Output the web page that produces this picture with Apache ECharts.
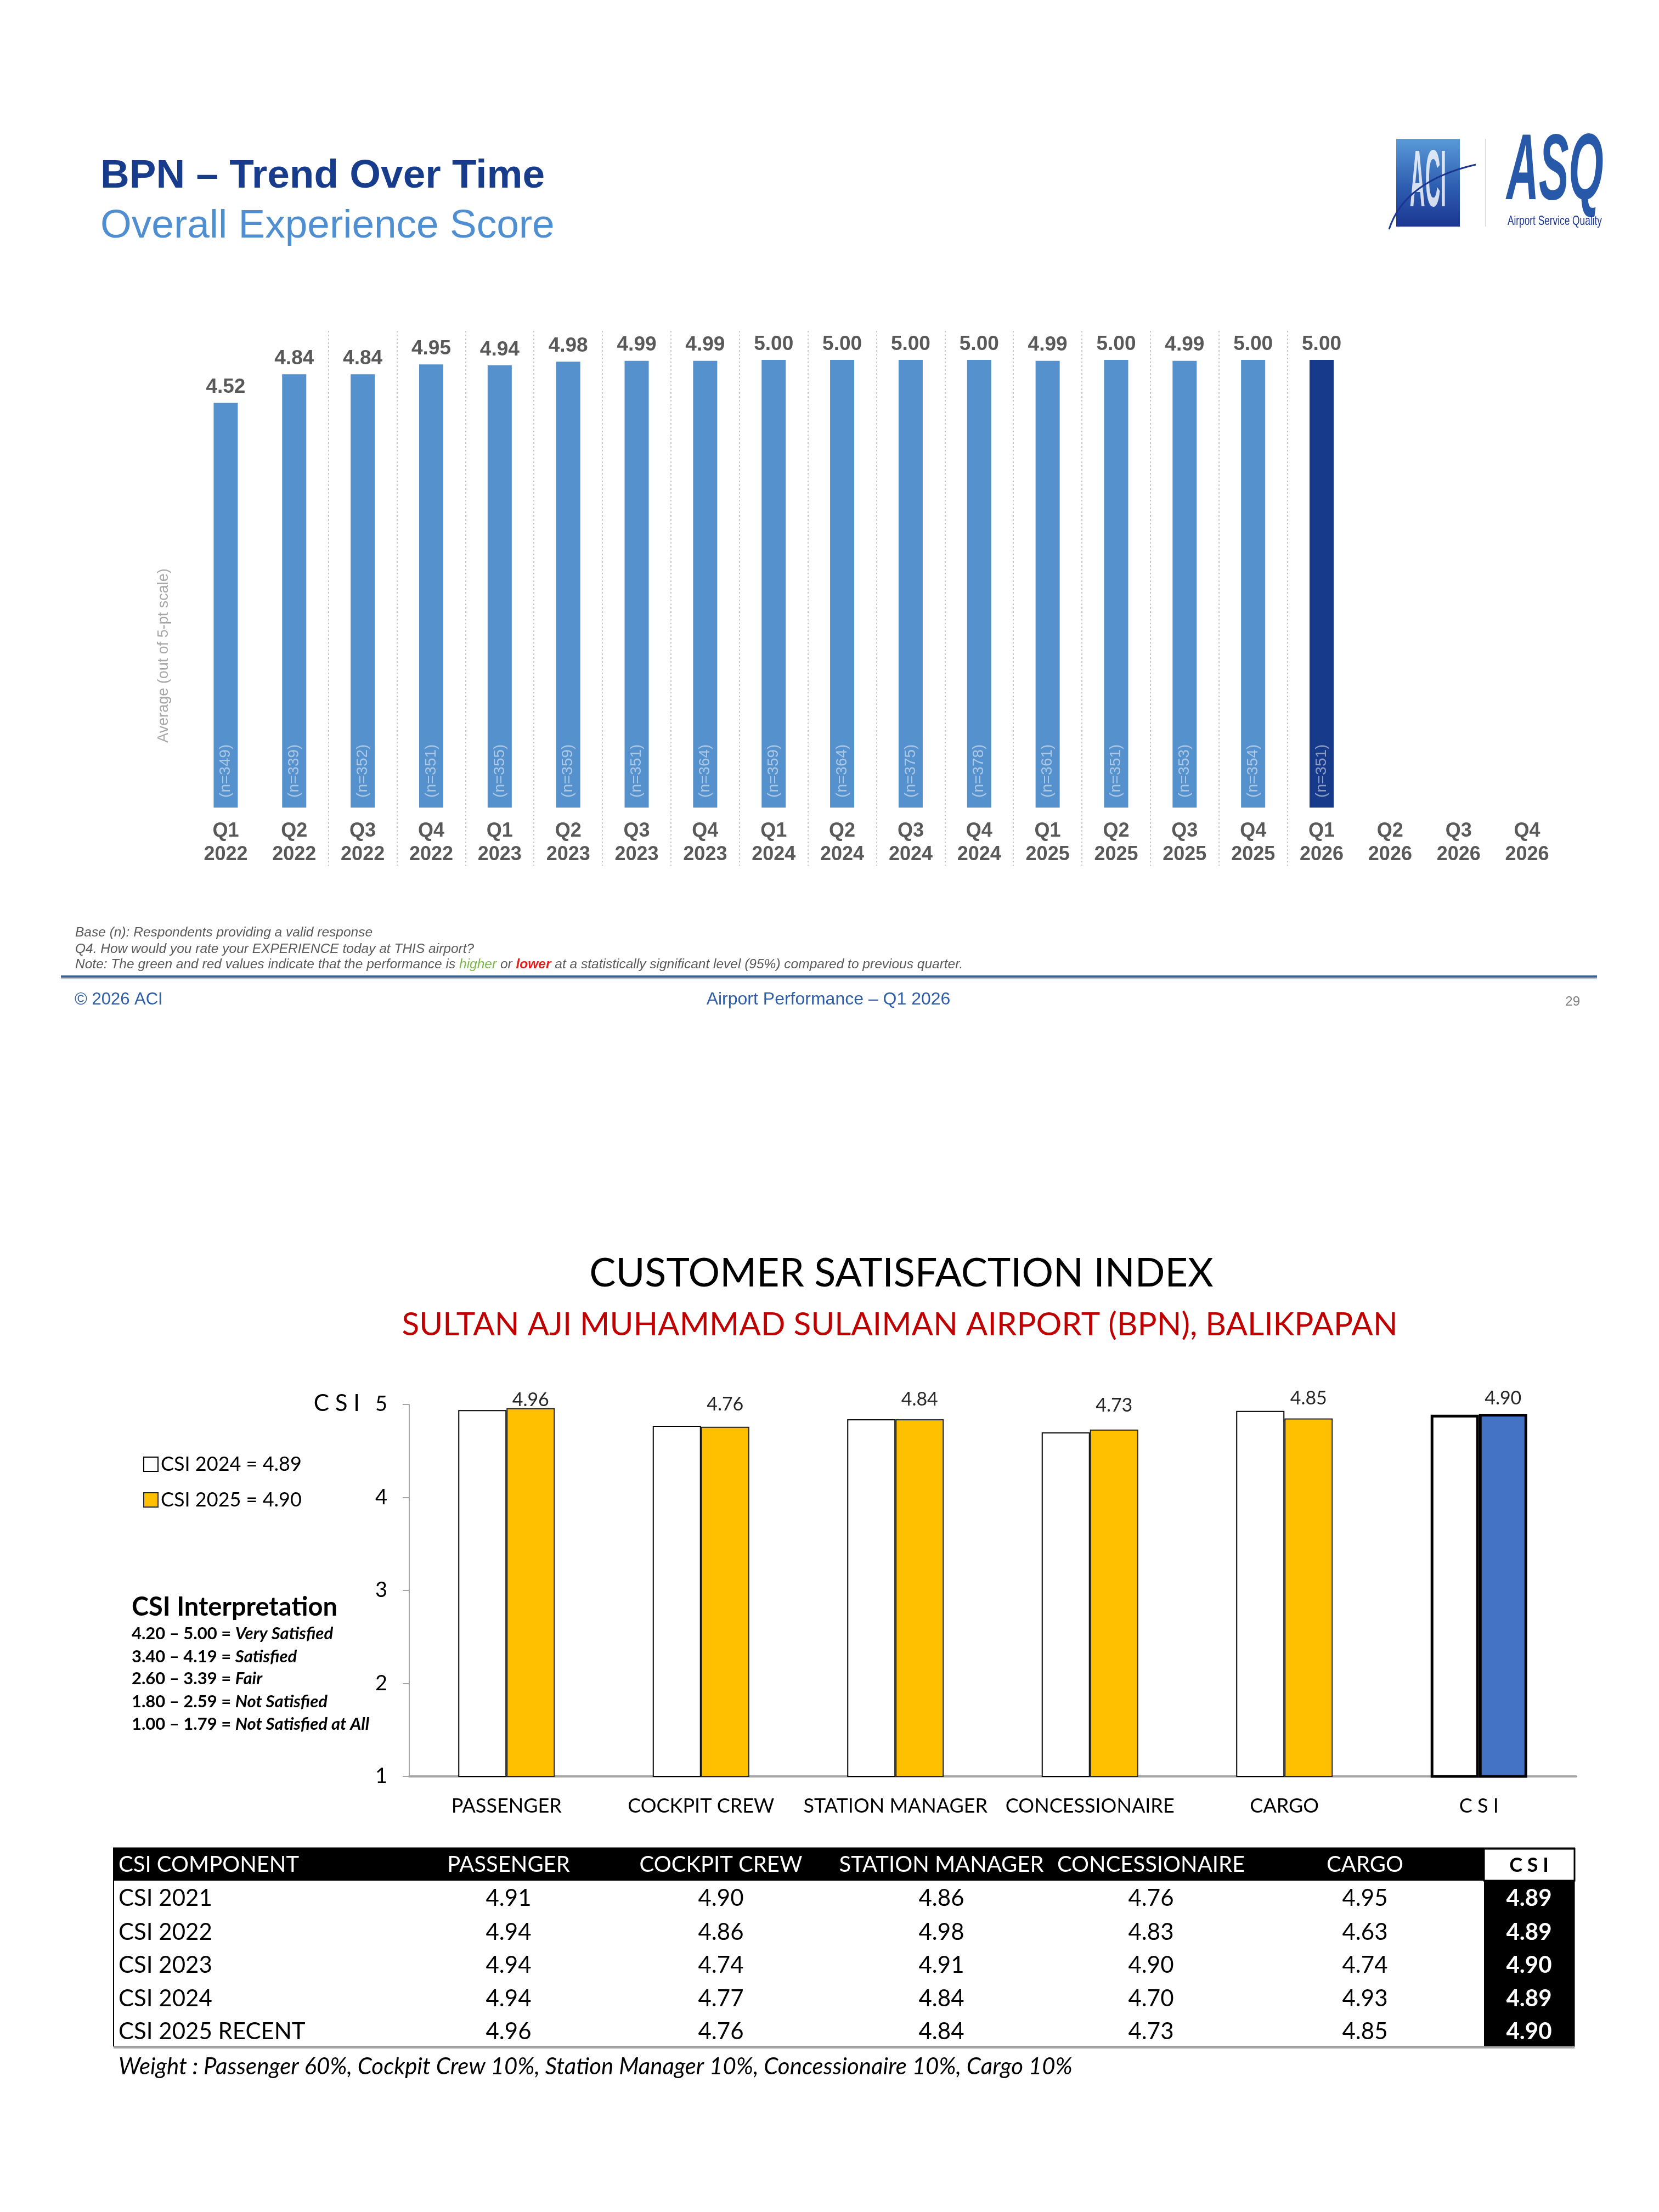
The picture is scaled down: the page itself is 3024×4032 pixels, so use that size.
<!DOCTYPE html>
<html>
<head>
<meta charset="utf-8">
<title>BPN – Trend Over Time / Customer Satisfaction Index</title>
<script src="https://cdn.jsdelivr.net/npm/echarts@6.0.0/dist/echarts.min.js"></script>
<style>
  html, body { margin: 0; padding: 0; background: #fff; }
  #chart { width: 3024px; height: 4032px; }
</style>
</head>
<body>
<div id="chart"></div>
<script>
// ---- trend over time (top) ----
var periods = ['Q1 2022', 'Q2 2022', 'Q3 2022', 'Q4 2022', 'Q1 2023', 'Q2 2023', 'Q3 2023', 'Q4 2023',
    'Q1 2024', 'Q2 2024', 'Q3 2024', 'Q4 2024', 'Q1 2025', 'Q2 2025', 'Q3 2025', 'Q4 2025',
    'Q1 2026', 'Q2 2026', 'Q3 2026', 'Q4 2026'];
var scores = [4.52, 4.84, 4.84, 4.95, 4.94, 4.98, 4.99, 4.99, 5.00, 5.00, 5.00, 5.00,
    4.99, 5.00, 4.99, 5.00, 5.00, null, null, null];
var bases = [349, 339, 352, 351, 355, 359, 351, 364, 359, 364, 375, 378, 361, 351, 353, 354, 351];
var currentPeriod = 'Q1 2026';

// ---- customer satisfaction index (bottom) ----
var csiComponents = ['PASSENGER', 'COCKPIT CREW', 'STATION MANAGER', 'CONCESSIONAIRE', 'CARGO', 'C S I'];
var csi2024 = [4.94, 4.77, 4.84, 4.70, 4.93, 4.89];
var csi2025 = [4.96, 4.76, 4.84, 4.73, 4.85, 4.90];
var csiTicks = [1, 2, 3, 4, 5];
// 数据标签在原图中手动上移的距离(像素)
var labelShift = [-5, 21, 16, 24, 16, 8];

var interpRanges = ['4.20 – 5.00', '3.40 – 4.19', '2.60 – 3.39', '1.80 – 2.59', '1.00 – 1.79'];
var interpLabels = ['Very Satisfied', 'Satisfied', 'Fair', 'Not Satisfied', 'Not Satisfied at All'];

// ---- table ----
var tableHeader = ['CSI COMPONENT', 'PASSENGER', 'COCKPIT CREW', 'STATION MANAGER', 'CONCESSIONAIRE', 'CARGO', 'C S I'];
var tableRowNames = ['CSI 2021', 'CSI 2022', 'CSI 2023', 'CSI 2024', 'CSI 2025 RECENT'];
var row2021 = [4.91, 4.90, 4.86, 4.76, 4.95, 4.89];
var row2022 = [4.94, 4.86, 4.98, 4.83, 4.63, 4.89];
var row2023 = [4.94, 4.74, 4.91, 4.90, 4.74, 4.90];
var row2024 = [4.94, 4.77, 4.84, 4.70, 4.93, 4.89];
var row2025 = [4.96, 4.76, 4.84, 4.73, 4.85, 4.90];
var tableRows = [row2021, row2022, row2023, row2024, row2025];

var ARIAL = 'Liberation Sans';
var CALIBRI = 'Lato';

var chart = echarts.init(document.getElementById('chart'), null, {renderer: 'canvas'});

//文字元素
function txt(x, y, text, o) {
    o = o || {};
    return {
        type: 'text', x: x, y: y, silent: true,
        rotation: o.rotation || 0,
        scaleX: o.scaleX || 1, scaleY: o.scaleY || 1,
        style: {
            text: text,
            fontFamily: o.family || CALIBRI,
            fontSize: o.size || 30,
            fontWeight: o.weight || 'normal',
            fontStyle: o.italic ? 'italic' : 'normal',
            fill: o.color || '#000',
            align: o.align || 'left', textAlign: o.align || 'left',
            verticalAlign: 'middle', textVerticalAlign: 'middle',
            rich: o.rich
        }
    };
}

var graphics = [];

// header
graphics.push(txt(183, 322, 'BPN – Trend Over Time', {family: ARIAL, size: 73, weight: 'bold', color: '#183C8C'}));
graphics.push(txt(183, 413, 'Overall Experience Score', {family: ARIAL, size: 73, color: '#4F8ED0'}));

// logo (rough)
graphics.push({
    type: 'rect', silent: true,
    shape: {x: 2545, y: 253, width: 116, height: 160},
    style: {fill: new echarts.graphic.LinearGradient(0, 0, 0, 1, [
        {offset: 0, color: '#5A9AD8'}, {offset: 0.55, color: '#2D5DB0'}, {offset: 1, color: '#1B3691'}])}
});
graphics.push(txt(2603, 335, 'ACI', {family: ARIAL, size: 70, weight: 'bold', color: 'rgba(255,255,255,0.8)', align: 'center', scaleX: 0.55, scaleY: 2.1}));
graphics.push({
    type: 'bezierCurve', silent: true,
    shape: {x1: 2532, y1: 418, x2: 2690, y2: 300, cpx1: 2560, cpy1: 330},
    style: {stroke: '#1B3691', lineWidth: 3, fill: null}
});
graphics.push({type: 'line', silent: true, shape: {x1: 2708, y1: 253, x2: 2708, y2: 413}, style: {stroke: '#E0E0E0', lineWidth: 2}});
graphics.push(txt(2746, 316, 'ASQ', {family: ARIAL, size: 170, weight: 'bold', italic: true, scaleX: 0.48, color: '#2858A8'}));
graphics.push(txt(2748, 403, 'Airport Service Quality', {family: ARIAL, size: 24, color: '#1B3691', scaleX: 0.72}));

// y axis name top chart
graphics.push(txt(299, 1195, 'Average (out of 5-pt scale)', {family: ARIAL, size: 27, color: '#A6A6A6', align: 'center', rotation: Math.PI / 2}));

// notes
var noteSize = 24.5;
graphics.push(txt(137, 1700, 'Base (n): Respondents providing a valid response', {family: ARIAL, size: noteSize, italic: true, color: '#595959'}));
graphics.push(txt(137, 1730, 'Q4. How would you rate your EXPERIENCE today at THIS airport?', {family: ARIAL, size: noteSize, italic: true, color: '#595959'}));
graphics.push(txt(137, 1758,
    '{n|Note: The green and red values indicate that the performance is }{g|higher}{n| or }{r|lower}{n| at a statistically significant level (95%) compared to previous quarter.}',
    {family: ARIAL, size: noteSize, italic: true, color: '#595959', rich: {
        n: {fontFamily: ARIAL, fontSize: noteSize, fontStyle: 'italic', fill: '#595959', color: '#595959'},
        g: {fontFamily: ARIAL, fontSize: noteSize, fontStyle: 'italic', fill: '#7AB648', color: '#7AB648'},
        r: {fontFamily: ARIAL, fontSize: noteSize, fontStyle: 'italic', fontWeight: 'bold', fill: '#E0201B', color: '#E0201B'}
    }}));
graphics.push({type: 'line', silent: true, shape: {x1: 111, y1: 1780, x2: 2911, y2: 1780}, style: {stroke: '#3A5F94', lineWidth: 4}});
graphics.push({type: 'line', silent: true, shape: {x1: 111, y1: 1784, x2: 2911, y2: 1784}, style: {stroke: '#B4C7E7', lineWidth: 2}});
graphics.push(txt(136, 1822, '© 2026 ACI', {family: ARIAL, size: 31, color: '#2E5EA8'}));
graphics.push(txt(1510, 1822, 'Airport Performance – Q1 2026', {family: ARIAL, size: 32, color: '#2E5EA8', align: 'center'}));
graphics.push(txt(2880, 1826, '29', {family: ARIAL, size: 24, color: '#7F7F7F', align: 'right'}));

// CSI titles
graphics.push(txt(1643, 2322, 'CUSTOMER SATISFACTION INDEX', {size: 72, color: '#000', align: 'center'}));
graphics.push(txt(1640, 2415, 'SULTAN AJI MUHAMMAD SULAIMAN AIRPORT (BPN), BALIKPAPAN', {size: 58.5, color: '#C00000', align: 'center'}));

// CSI interpretation
graphics.push(txt(240, 2930, 'CSI Interpretation', {size: 47, weight: 'bold'}));
var interpRich = {
    a: {fontFamily: CALIBRI, fontSize: 31, fontWeight: 'bold', fill: '#000', color: '#000'},
    b: {fontFamily: CALIBRI, fontSize: 31, fontWeight: 'bold', fontStyle: 'italic', fill: '#000', color: '#000'}
};
var interpY = [2978, 3020, 3060, 3102, 3143];
interpRanges.forEach(function (r, i) {
    graphics.push(txt(240, interpY[i], '{a|' + r + ' = }{b|' + interpLabels[i] + '}', {size: 31, rich: interpRich}));
});

// table
var colX = [216, 927, 1314, 1716, 2098, 2488, 2787];
var tTop = 3368, tHead = 3428, tBottom = 3730, tLeft = 207, tRight = 2870, csiLeft = 2705;
var rowY = [3460, 3522, 3582, 3643, 3703];
graphics.push({type: 'rect', silent: true, shape: {x: tLeft, y: tTop, width: tRight - tLeft, height: tBottom - tTop}, style: {fill: '#fff', stroke: '#7F7F7F', lineWidth: 2}});
graphics.push({type: 'rect', silent: true, shape: {x: tLeft, y: tTop, width: csiLeft - tLeft, height: tHead - tTop}, style: {fill: '#000'}});
graphics.push({type: 'rect', silent: true, shape: {x: csiLeft, y: tTop + 2, width: tRight - csiLeft, height: tHead - tTop - 2}, style: {fill: '#fff', stroke: '#000', lineWidth: 3}});
graphics.push({type: 'rect', silent: true, shape: {x: csiLeft, y: tHead, width: tRight - csiLeft, height: tBottom - tHead}, style: {fill: '#000'}});
graphics.push({type: 'line', silent: true, shape: {x1: tLeft, y1: tTop, x2: tLeft, y2: tBottom}, style: {stroke: '#000', lineWidth: 2}});
graphics.push({type: 'line', silent: true, shape: {x1: tLeft, y1: tBottom + 2, x2: tRight, y2: tBottom + 2}, style: {stroke: '#A6A6A6', lineWidth: 4}});
tableHeader.forEach(function (h, i) {
    if (i === 0) {
        graphics.push(txt(colX[0], 3399, h, {size: 40, color: '#fff'}));
    } else if (i === tableHeader.length - 1) {
        graphics.push(txt(colX[i], 3400, h, {size: 36, weight: 'bold', color: '#000', align: 'center'}));
    } else {
        graphics.push(txt(colX[i], 3399, h, {size: 40, color: '#fff', align: 'center'}));
    }
});
tableRows.forEach(function (row, r) {
    graphics.push(txt(colX[0], rowY[r], tableRowNames[r], {size: 42, color: '#000'}));
    row.forEach(function (v, c) {
        var last = c === row.length - 1;
        graphics.push(txt(colX[c + 1], rowY[r], v.toFixed(2), {
            size: 42, align: 'center', weight: last ? 'bold' : 'normal', color: last ? '#fff' : '#000'
        }));
    });
});
graphics.push(txt(216, 3767, 'Weight : Passenger 60%, Cockpit Crew 10%, Station Manager 10%, Concessionaire 10%, Cargo 10%', {size: 42, italic: true, color: '#000'}));

var option = {
    backgroundColor: '#fff',
    animation: false,
    textStyle: {fontFamily: CALIBRI},
    legend: {
        data: ['CSI 2024 = 4.89', 'CSI 2025 = 4.90'],
        orient: 'vertical',
        left: 256, top: 2642,
        itemWidth: 26, itemHeight: 26, itemGap: 21,
        icon: 'rect',
        selectedMode: false,
        textStyle: {fontFamily: CALIBRI, fontSize: 36, color: '#000', lineHeight: 44}
    },
    grid: [
        {left: 349, top: 603, width: 2497, height: 975},
        {left: 746, top: 2560, width: 2127, height: 678}
    ],
    xAxis: [
        {
            type: 'category', gridIndex: 0, data: periods,
            axisLine: {show: false, onZero: false},
            axisTick: {show: false},
            axisLabel: {
                formatter: function (v) { return v.replace(' ', '\n'); },
                fontFamily: ARIAL, fontSize: 36, fontWeight: 'bold', color: '#595959',
                lineHeight: 43, margin: -84, interval: 0
            },
            splitLine: {
                show: true, showMinLine: false, showMaxLine: false,
                interval: function (index) { return index >= 1 && index <= 16; },
                lineStyle: {color: '#C8C8C8', width: 2, type: [3, 4]}
            }
        },
        {
            type: 'category', gridIndex: 1, data: csiComponents,
            axisLine: {show: true, lineStyle: {color: '#A6A6A6', width: 4}},
            axisTick: {show: false},
            axisLabel: {fontFamily: CALIBRI, fontSize: 36, color: '#000', margin: 36, interval: 0}
        }
    ],
    yAxis: [
        {
            type: 'value', gridIndex: 0, min: -0.65, max: 5.325,
            axisLine: {show: false}, axisTick: {show: false},
            axisLabel: {show: false}, splitLine: {show: false}
        },
        {
            type: 'value', gridIndex: 1, min: csiTicks[0], max: csiTicks[csiTicks.length - 1], interval: 1,
            axisLine: {show: true, lineStyle: {color: '#A6A6A6', width: 2}},
            axisTick: {show: true, length: 12, lineStyle: {color: '#A6A6A6', width: 2}},
            splitLine: {show: false},
            axisLabel: {
                margin: 40,
                formatter: function (v) {
                    return v === 5 ? '{c|C S I}{n|' + v + '}' : '{n|' + v + '}';
                },
                rich: {
                    c: {fontFamily: CALIBRI, fontSize: 42, color: '#000', padding: [0, 28, 4, 0]},
                    n: {fontFamily: CALIBRI, fontSize: 38, color: '#000'}
                }
            }
        }
    ],
    series: [
        {
            name: 'Overall Experience Score', type: 'bar', xAxisIndex: 0, yAxisIndex: 0,
            barWidth: 44, barGap: '-100%',
            data: scores.map(function (v, i) {
                return {
                    value: v,
                    itemStyle: {color: periods[i] === currentPeriod ? '#173A8A' : '#5591CD'}
                };
            }),
            label: {
                show: true, position: 'top', distance: 10,
                fontFamily: ARIAL, fontSize: 37, fontWeight: 'bold', color: '#595959',
                formatter: function (p) { return p.value == null ? '' : p.value.toFixed(2); }
            }
        },
        {
            name: 'Base', type: 'bar', xAxisIndex: 0, yAxisIndex: 0,
            barWidth: 44, barGap: '-100%', z: 3,
            data: scores,
            itemStyle: {color: 'rgba(0,0,0,0)'},
            label: {
                show: true, position: 'insideBottom', distance: 18, rotate: 90,
                align: 'left', verticalAlign: 'middle',
                fontFamily: ARIAL, fontSize: 28, color: 'rgba(255,255,255,0.5)',
                formatter: function (p) { return bases[p.dataIndex] ? '(n=' + bases[p.dataIndex] + ')' : ''; }
            }
        },
        {
            name: 'CSI 2024 = 4.89', type: 'bar', xAxisIndex: 1, yAxisIndex: 1,
            barWidth: 88, barGap: '0%',
            itemStyle: {color: '#FFFFFF', borderColor: '#000', borderWidth: 2},
            data: csi2024.map(function (v, i) {
                return i === csi2024.length - 1 ? {value: v, itemStyle: {borderWidth: 5}} : v;
            })
        },
        {
            name: 'CSI 2025 = 4.90', type: 'bar', xAxisIndex: 1, yAxisIndex: 1,
            barWidth: 88, barGap: '0%',
            itemStyle: {color: '#FFC000', borderColor: '#262626', borderWidth: 2},
            data: csi2025.map(function (v, i) {
                var item = {value: v, label: {distance: 3 + labelShift[i]}};
                if (i === csi2025.length - 1) {
                    item.itemStyle = {color: '#4472C4', borderColor: '#000', borderWidth: 5};
                }
                return item;
            }),
            label: {
                show: true, position: 'top', distance: 3,
                fontFamily: CALIBRI, fontSize: 34, color: '#262626',
                formatter: function (p) { return p.value.toFixed(2); }
            }
        }
    ],
    graphic: graphics
};
chart.setOption(option);
</script>
</body>
</html>
